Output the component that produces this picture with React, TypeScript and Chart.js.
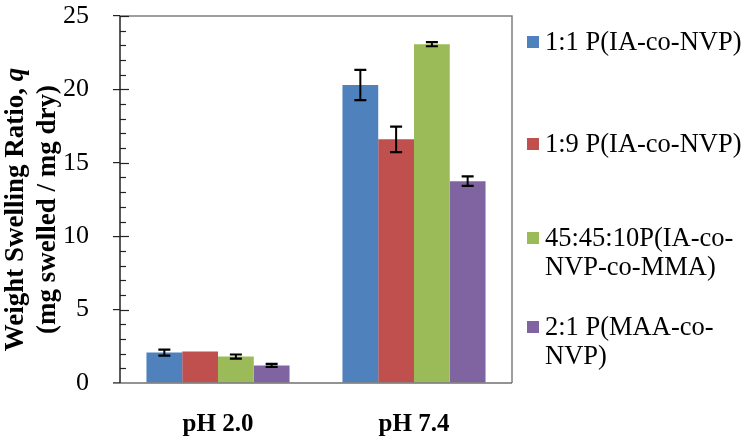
import React, { useEffect, useRef } from "react";
import { Chart, registerables } from "chart.js";

Chart.register(...registerables);

const categories = ["pH 2.0", "pH 7.4"];
const seriesLabels = [
  "1:1 P(IA-co-NVP)",
  "1:9 P(IA-co-NVP)",
  "45:45:10P(IA-co-NVP-co-MMA)",
  "2:1 P(MAA-co-NVP)",
];
const legendLines = [
  ["1:1 P(IA-co-NVP)"],
  ["1:9 P(IA-co-NVP)"],
  ["45:45:10P(IA-co-", "NVP-co-MMA)"],
  ["2:1 P(MAA-co-", "NVP)"],
];
const seriesColors = ["#4F81BD", "#C0504D", "#9BBB59", "#8064A2"];

const values11IaNvp = [2.07, 20.3];
const values19IaNvp = [2.14, 16.6];
const values454510 = [1.8, 23.08];
const values21MaaNvp = [1.2, 13.75];

const err11IaNvp = [0.2, 1.03];
const err19IaNvp = [0, 0.87];
const err454510 = [0.14, 0.14];
const err21MaaNvp = [0.1, 0.32];

const yTitleLine1 = "Weight Swelling Ratio, ";
const yTitleItalic = "q";
const yTitleLine2 = "(mg swelled / mg dry)";

const yMin = 0;
const yMax = 25;
const yMajorStep = 5;
const yMinorStep = 1;

const allValues = [values11IaNvp, values19IaNvp, values454510, values21MaaNvp];
const allErrors = [err11IaNvp, err19IaNvp, err454510, err21MaaNvp];

const SERIF = "'Liberation Serif', 'Times New Roman', serif";

const decorPlugin = {
  id: "decor",
  afterDatasetsDraw(chart: any) {
    const ctx = chart.ctx;
    const { left, right, top, bottom } = chart.chartArea;
    const yScale = chart.scales.y;

    // error bars
    ctx.save();
    ctx.strokeStyle = "#000";
    chart.data.datasets.forEach((ds: any, di: number) => {
      const meta = chart.getDatasetMeta(di);
      const errs = allErrors[di];
      meta.data.forEach((bar: any, i: number) => {
        const v = ds.data[i];
        const e = errs[i];
        if (!e) return;
        const x = bar.x;
        const yHi = yScale.getPixelForValue(v + e);
        const yLo = yScale.getPixelForValue(v - e);
        ctx.lineWidth = 2;
        ctx.beginPath();
        ctx.moveTo(x, yHi);
        ctx.lineTo(x, yLo);
        ctx.stroke();
        ctx.lineWidth = 2.2;
        ctx.beginPath();
        ctx.moveTo(x - 6, yHi);
        ctx.lineTo(x + 6, yHi);
        ctx.moveTo(x - 6, yLo);
        ctx.lineTo(x + 6, yLo);
        ctx.stroke();
      });
    });
    ctx.restore();

    // frame top/right
    ctx.save();
    ctx.strokeStyle = "#7f7f7f";
    ctx.lineWidth = 1.5;
    ctx.beginPath();
    ctx.moveTo(left, top);
    ctx.lineTo(right, top);
    ctx.lineTo(right, bottom);
    ctx.stroke();
    ctx.restore();

    // bottom axis line extending left
    ctx.save();
    ctx.strokeStyle = "#6f6f6f";
    ctx.lineWidth = 1.5;
    ctx.beginPath();
    ctx.moveTo(left - 7, bottom);
    ctx.lineTo(right, bottom);
    ctx.stroke();
    ctx.restore();

    // inner ticks on y axis
    ctx.save();
    ctx.strokeStyle = "#222";
    ctx.lineWidth = 1.2;
    for (let v = yMin; v <= yMax; v += yMinorStep) {
      const y = Math.round(yScale.getPixelForValue(v)) + 0.5;
      const len = v % yMajorStep === 0 ? 9 : 6;
      if (v === yMin) continue;
      ctx.beginPath();
      ctx.moveTo(left, y);
      ctx.lineTo(left + len, y);
      ctx.stroke();
    }
    // left axis
    ctx.lineWidth = 1.5;
    ctx.beginPath();
    ctx.moveTo(left, top);
    ctx.lineTo(left, bottom);
    ctx.stroke();
    ctx.restore();
  },
  afterDraw(chart: any) {
    const ctx = chart.ctx;
    const { top, bottom } = chart.chartArea;

    // y title
    ctx.save();
    const cy = (top + bottom) / 2 + 10;
    ctx.translate(0, cy);
    ctx.rotate(-Math.PI / 2);
    ctx.fillStyle = "#000";
    ctx.textBaseline = "middle";
    ctx.textAlign = "left";
    const boldFont = `bold 27px ${SERIF}`;
    const italFont = `italic bold 27px ${SERIF}`;
    ctx.font = boldFont;
    const w1 = ctx.measureText(yTitleLine1).width;
    ctx.font = italFont;
    const wq = ctx.measureText(yTitleItalic).width;
    const total1 = w1 + wq;
    ctx.font = boldFont;
    ctx.fillText(yTitleLine1, -total1 / 2, 16);
    ctx.font = italFont;
    ctx.fillText(yTitleItalic, -total1 / 2 + w1, 16);
    ctx.font = boldFont;
    ctx.textAlign = "center";
    ctx.fillText(yTitleLine2, 0, 48);
    ctx.restore();

    // legend
    ctx.save();
    const itemY = [42, 144, 238, 327];
    const lineH = 29.5;
    ctx.font = `26.5px ${SERIF}`;
    ctx.textBaseline = "middle";
    ctx.textAlign = "left";
    legendLines.forEach((lines, i) => {
      const y0 = itemY[i];
      ctx.fillStyle = seriesColors[i];
      ctx.fillRect(527, y0 - 6, 12, 12);
      ctx.fillStyle = "#000";
      lines.forEach((ln, li) => {
        ctx.fillText(ln, 545, y0 + li * lineH + 1);
      });
    });
    ctx.restore();
  },
};

export default function App() {
  const ref = useRef<HTMLCanvasElement | null>(null);
  useEffect(() => {
    if (!ref.current) return;
    const chart = new Chart(ref.current, {
      type: "bar",
      data: {
        labels: categories,
        datasets: allValues.map((vals, i) => ({
          label: seriesLabels[i],
          data: vals,
          backgroundColor: seriesColors[i],
          borderWidth: 0,
          categoryPercentage: 0.73,
          barPercentage: 1.0,
        })),
      },
      options: {
        animation: false,
        responsive: false,
        maintainAspectRatio: false,
        layout: { padding: { left: 0, right: 238, top: 16, bottom: 0 } },
        plugins: {
          legend: { display: false },
          tooltip: { enabled: false },
          title: { display: false },
        },
        scales: {
          x: {
            grid: { display: false, drawTicks: false },
            border: { display: false },
            ticks: {
              color: "#000",
              font: { family: SERIF, size: 25, weight: "bold" },
              padding: 27,
            },
            afterFit(scale: any) {
              scale.height = 61;
              scale.paddingLeft = 0;
              scale.paddingRight = 0;
            },
          },
          y: {
            min: yMin,
            max: yMax,
            grid: {
              drawOnChartArea: false,
              tickLength: 7,
              color: "#222",
              lineWidth: 1.2,
            },
            border: { display: false },
            ticks: {
              stepSize: yMajorStep,
              color: "#000",
              font: { family: SERIF, size: 26 },
              padding: 24,
            },
            afterFit(scale: any) {
              scale.width = 120;
              scale.paddingTop = 0;
              scale.paddingBottom = 0;
            },
          },
        },
      },
      plugins: [decorPlugin],
    });
    return () => chart.destroy();
  }, []);
  return (
    <div style={{ position: "absolute", left: 0, top: 0, width: 750, height: 444, background: "#fff" }}>
      <canvas ref={ref} width={750} height={444} style={{ width: 750, height: 444 }} />
    </div>
  );
}
